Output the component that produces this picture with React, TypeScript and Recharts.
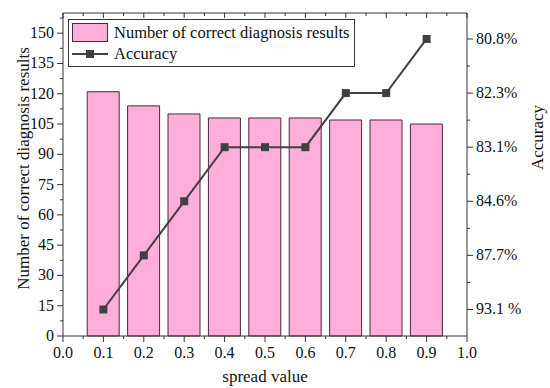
import {
  Bar,
  ComposedChart,
  Legend,
  Line,
  XAxis,
  YAxis,
} from "recharts";

const spreadValues = [0.1, 0.2, 0.3, 0.4, 0.5, 0.6, 0.7, 0.8, 0.9];
const correctCounts = [121, 114, 110, 108, 108, 108, 107, 107, 105];
// accuracy axis is ordinal: each point sits on one of the labelled levels
const accuracyLevel = [0, 1, 2, 3, 3, 3, 4, 4, 5];
const accuracyLabels = ["93.1 %", "87.7%", "84.6%", "83.1%", "82.3%", "80.8%"];

const xTicks = [0, 0.05, 0.1, 0.15, 0.2, 0.25, 0.3, 0.35, 0.4, 0.45, 0.5, 0.55, 0.6, 0.65, 0.7, 0.75, 0.8, 0.85, 0.9, 0.95, 1];
const leftTicks = [0, 7.5, 15, 22.5, 30, 37.5, 45, 52.5, 60, 67.5, 75, 82.5, 90, 97.5, 105, 112.5, 120, 127.5, 135, 142.5, 150, 157.5];
const rightTicks = [0, 0.5, 1, 1.5, 2, 2.5, 3, 3.5, 4, 4.5, 5];

const data = spreadValues.map((x, i) => ({
  x,
  count: correctCounts[i],
  acc: accuracyLevel[i],
}));

const FONT = "'Liberation Serif', 'Times New Roman', serif";
const AXIS = "#333333";
const BAR_FILL = "#FFADD9";
const BAR_EDGE = "#4A2A3A";
const LINE = "#404040";

function isMajor(v: number, step: number) {
  return Math.abs(v / step - Math.round(v / step)) < 1e-6;
}

function BottomTick({ x, y, payload }: any) {
  const major = isMajor(payload.value, 0.1);
  return (
    <g>
      <line x1={x} x2={x} y1={y} y2={y + (major ? 6 : 3)} stroke={AXIS} />
      {major && (
        <text x={x} y={y + 22} textAnchor="middle" fontSize={16} fontFamily={FONT} fill="#111">
          {payload.value.toFixed(1)}
        </text>
      )}
    </g>
  );
}

function TopTick({ x, y, payload }: any) {
  const major = isMajor(payload.value, 0.1);
  return <line x1={x} x2={x} y1={y} y2={y + (major ? 5 : 3)} stroke={AXIS} />;
}

function LeftTick({ x, y, payload }: any) {
  const major = isMajor(payload.value, 15);
  return (
    <g>
      <line x1={x} x2={x - (major ? 6 : 3)} y1={y} y2={y} stroke={AXIS} />
      {major && (
        <text x={x - 9} y={y + 5} textAnchor="end" fontSize={16} fontFamily={FONT} fill="#111">
          {payload.value}
        </text>
      )}
    </g>
  );
}

function RightTick({ x, y, payload }: any) {
  const major = isMajor(payload.value, 1);
  return (
    <g>
      <line x1={x} x2={x + (major ? 6 : 3)} y1={y} y2={y} stroke={AXIS} />
      {major && (
        <text x={x + 9} y={y + 5} textAnchor="start" fontSize={16} fontFamily={FONT} fill="#111">
          {accuracyLabels[Math.round(payload.value)]}
        </text>
      )}
    </g>
  );
}

function ChartLegend() {
  return (
    <div
      style={{
        border: `1px solid ${AXIS}`,
        background: "#fff",
        padding: "2px 4px 2px 3px",
        fontFamily: FONT,
        fontSize: 16.5,
        color: "#111",
        lineHeight: "21px",
      }}
    >
      <div style={{ display: "flex", alignItems: "center", gap: 6 }}>
        <span
          style={{
            width: 36,
            height: 19,
            background: BAR_FILL,
            border: `1px solid ${BAR_EDGE}`,
            boxSizing: "border-box",
          }}
        />
        <span>Number of correct diagnosis results</span>
      </div>
      <div style={{ display: "flex", alignItems: "center", gap: 6 }}>
        <svg width={36} height={21}>
          <line x1={0} x2={36} y1={11} y2={11} stroke={LINE} strokeWidth={2} />
          <rect x={14} y={7} width={8} height={8} fill={LINE} />
        </svg>
        <span>Accuracy</span>
      </div>
    </div>
  );
}

export default function App() {
  return (
    <div style={{ position: "absolute", left: 0, top: 0, background: "#fff" }}>
      <ComposedChart
        width={550}
        height={388}
        data={data}
        margin={{ top: 0, right: 0, left: 0, bottom: 0 }}
      >
        <XAxis
          xAxisId="bottom"
          dataKey="x"
          type="number"
          domain={[0, 1]}
          ticks={xTicks}
          interval={0}
          height={52}
          stroke={AXIS}
          tickSize={0}
          tickMargin={0}
          tickLine={false}
          tick={<BottomTick />}
          label={{
            value: "spread value",
            position: "insideBottom",
            offset: 6,
            fontSize: 17,
            fontFamily: FONT,
            fill: "#111",
          }}
        />
        <XAxis
          xAxisId="top"
          orientation="top"
          dataKey="x"
          type="number"
          domain={[0, 1]}
          ticks={xTicks}
          interval={0}
          height={13}
          stroke={AXIS}
          tickSize={0}
          tickMargin={0}
          tickLine={false}
          tick={<TopTick />}
        />
        <YAxis
          yAxisId="left"
          type="number"
          domain={[0, 160]}
          ticks={leftTicks}
          interval={0}
          width={63}
          stroke={AXIS}
          tickSize={0}
          tickMargin={0}
          tickLine={false}
          tick={<LeftTick />}
          label={{
            value: "Number of correct diagnosis results",
            angle: -90,
            position: "insideLeft",
            offset: 23,
            dy: -6,
            style: { textAnchor: "middle" },
            fontSize: 17,
            fontFamily: FONT,
            fill: "#111",
          }}
        />
        <YAxis
          yAxisId="right"
          orientation="right"
          type="number"
          domain={[-0.49, 5.48]}
          ticks={rightTicks}
          interval={0}
          width={83}
          stroke={AXIS}
          tickSize={0}
          tickMargin={0}
          tickLine={false}
          tick={<RightTick />}
          label={{
            value: "Accuracy",
            angle: -90,
            position: "insideRight",
            offset: 13,
            dy: -37,
            style: { textAnchor: "middle" },
            fontSize: 17,
            fontFamily: FONT,
            fill: "#111",
          }}
        />
        <Legend
          layout="vertical"
          align="center"
          verticalAlign="middle"
          content={<ChartLegend />}
          wrapperStyle={{ left: 68, top: 19, width: "auto" }}
        />
        <Bar
          xAxisId="bottom"
          yAxisId="left"
          dataKey="count"
          name="Number of correct diagnosis results"
          barSize={32}
          fill={BAR_FILL}
          stroke={BAR_EDGE}
          strokeWidth={1}
          isAnimationActive={false}
        />
        <Line
          xAxisId="bottom"
          yAxisId="right"
          dataKey="acc"
          name="Accuracy"
          type="linear"
          stroke={LINE}
          strokeWidth={2}
          dot={({ cx, cy, index }: any) => (
            <rect key={index} x={cx - 4} y={cy - 4} width={8} height={8} fill={LINE} />
          )}
          isAnimationActive={false}
        />
      </ComposedChart>
    </div>
  );
}
